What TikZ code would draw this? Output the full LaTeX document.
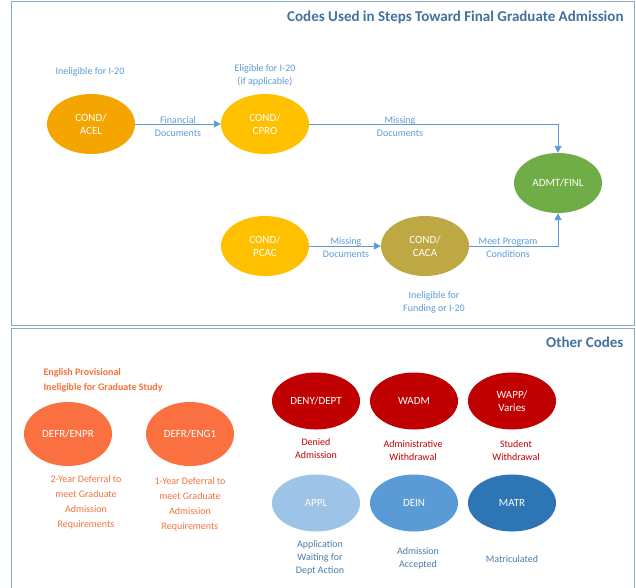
\documentclass[tikz,border=0pt]{standalone}
\usepackage{fontspec}
\setmainfont{Carlito}
\usetikzlibrary{arrows.meta,shapes.geometric}
\definecolor{lblue}{HTML}{5B9BD5}
\definecolor{ttl}{HTML}{41719C}
\definecolor{frm}{HTML}{8EA9C6}
\definecolor{orgt}{HTML}{F4713B}
\definecolor{redt}{HTML}{C00000}
\begin{document}
\begin{tikzpicture}[x=1pt,y=-1pt,
  el/.style={ellipse,minimum width=88pt,minimum height=60pt,inner sep=0pt,text=white,font=\fontsize{11}{13}\selectfont,align=center},
  lab/.style={font=\fontsize{10}{13}\selectfont,align=center,text=lblue},
  arr/.style={draw=lblue,line width=0.9pt,-{Triangle[length=7pt,width=7pt]}}]
\useasboundingbox (0,0) rectangle (636,587);
\draw[frm,line width=1pt] (11,1) rectangle (634,325);
\draw[frm,line width=1pt] (11,328) rectangle (634,590);
\node[anchor=east,font=\bfseries\fontsize{15}{17}\selectfont,text=ttl] (t1) at (627,17) {Codes Used in Steps Toward Final Graduate Admission};
\node[anchor=east,font=\bfseries\fontsize{15}{17}\selectfont,text=ttl] (t2) at (627,342) {Other Codes};
% top
\node[el,fill={rgb,255:red,245;green,165;blue,0}] (acel) at (91,124) {COND/\\ACEL};
\node[el,fill={rgb,255:red,255;green,192;blue,0}] (cpro) at (265,124) {COND/\\CPRO};
\node[el,fill={rgb,255:red,112;green,173;blue,71}] (finl) at (558,183) {ADMT/FINL};
\node[el,fill={rgb,255:red,255;green,192;blue,0}] (pcac) at (265,246) {COND/\\PCAC};
\node[el,fill={rgb,255:red,189;green,168;blue,68}] (caca) at (425,246) {COND/\\CACA};
\coordinate (c1) at (558,124);
\coordinate (c2) at (558,246);
\draw[arr] (acel) -- (cpro);
\draw[arr] (cpro) -- (c1) -- (finl);
\draw[arr] (pcac) -- (caca);
\draw[arr] (caca) -- (c2) -- (finl);
\node[lab] (l1) at (90,72) {Ineligible for I-20};
\node[lab] (l2) at (265,75) {Eligible for I-20\\(if applicable)};
\node[lab] (l3) at (178,127) {Financial\\Documents};
\node[lab] (l4) at (400,127) {Missing\\Documents};
\node[lab] (l5) at (346,248) {Missing\\Documents};
\node[lab] (l6) at (508,248) {Meet Program\\Conditions};
\node[lab] (l7) at (434,302) {Ineligible for\\Funding or I-20};
% bottom
\node[anchor=west,font=\bfseries\fontsize{10}{15}\selectfont,text=orgt,align=left] (eh) at (40,380) {English Provisional\\Ineligible for Graduate Study};
\node[el,minimum height=64pt,fill={rgb,255:red,250;green,112;blue,64}] (enpr) at (68,434) {DEFR/ENPR};
\node[el,minimum height=64pt,fill={rgb,255:red,250;green,112;blue,64}] (eng1) at (190,434) {DEFR/ENG1};
\node[lab,text=orgt,font=\fontsize{10}{15}\selectfont] (d1) at (86,502) {2-Year Deferral to\\meet Graduate\\Admission\\Requirements};
\node[lab,text=orgt,font=\fontsize{10}{15}\selectfont] (d2) at (190,504) {1-Year Deferral to\\meet Graduate\\Admission\\Requirements};
\node[el,minimum height=57pt,fill=redt] (deny) at (316,401) {DENY/DEPT};
\node[el,minimum height=57pt,fill=redt] (wadm) at (414,401) {WADM};
\node[el,minimum height=57pt,fill=redt] (wapp) at (512,401) {WAPP/\\Varies};
\node[lab,text=redt] (d3) at (316,449) {Denied\\Admission};
\node[lab,text=redt] (d4) at (413,451) {Administrative\\Withdrawal};
\node[lab,text=redt] (d5) at (516,451) {Student\\Withdrawal};
\node[el,minimum height=57pt,fill={rgb,255:red,157;green,195;blue,230}] (appl) at (316,503) {APPL};
\node[el,minimum height=57pt,fill=lblue] (dein) at (414,503) {DEIN};
\node[el,minimum height=57pt,fill={rgb,255:red,46;green,117;blue,182}] (matr) at (512,503) {MATR};
\node[lab,text=lblue!80!black] (d6) at (320,558) {Application\\Waiting for\\Dept Action};
\node[lab,text=lblue!80!black] (d7) at (418,558) {Admission\\Accepted};
\node[lab,text=lblue!80!black] (d8) at (512,559) {Matriculated};
\end{tikzpicture}
\end{document}
